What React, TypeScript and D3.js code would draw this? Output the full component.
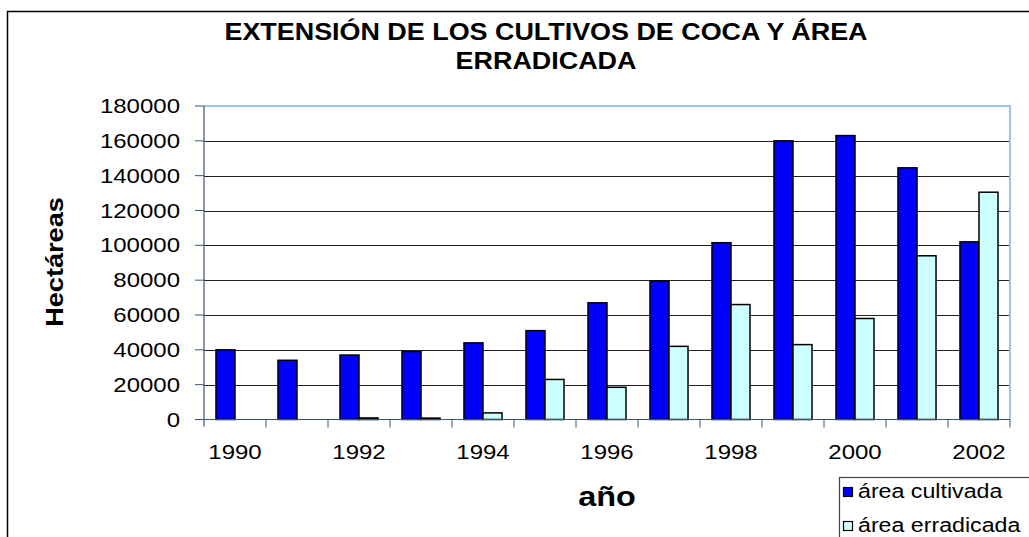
import * as d3 from "d3";
import { useEffect, useRef } from "react";

const years = [
  "1990", "1991", "1992", "1993", "1994", "1995", "1996",
  "1997", "1998", "1999", "2000", "2001", "2002",
];
const cultivada = [
  40000, 34000, 37000, 39000, 44000, 51000, 67000,
  79500, 101500, 160000, 163000, 144500, 102000,
];
const erradicada = [
  0, 0, 900, 800, 3800, 23000, 18500,
  42000, 66000, 43000, 58000, 94000, 130500,
];
const seriesNames = ["área cultivada", "área erradicada"];
const seriesColors = ["#0000ff", "#ccffff"];
const yTicks = [0, 20000, 40000, 60000, 80000, 100000, 120000, 140000, 160000, 180000];
const xLabelYears = ["1990", "1992", "1994", "1996", "1998", "2000", "2002"];

const W = 1029;
const H = 537;
const FONT = "Arial, 'Liberation Sans', sans-serif";
const SX = 1.2; // text in the original is stretched horizontally

export default function App() {
  const ref = useRef<SVGSVGElement | null>(null);

  useEffect(() => {
    if (!ref.current) return;
    const svg = d3.select(ref.current);
    svg.selectAll("*").remove();

    const left = 204, right = 1010, top = 106, bottom = 419.5;

    const x = d3.scaleBand<string>().domain(years).range([left, right]).padding(0);
    const inner = d3
      .scaleBand<number>()
      .domain([0, 1])
      .range([0, x.bandwidth()])
      .paddingInner(0)
      .paddingOuter(0.63);
    const y = d3.scaleLinear().domain([0, 180000]).range([bottom, top]);

    // outer frame
    svg.append("path")
      .attr("d", `M7.5,${H + 5} V11.5 H${W + 5}`)
      .attr("fill", "none")
      .attr("stroke", "#000")
      .attr("stroke-width", 1.5);

    const stretched = (
      g: d3.Selection<SVGSVGElement, unknown, null, undefined>,
      tx: number, ty: number, txt: string, size: number,
      anchor: string, bold = false, sx = SX
    ) =>
      g.append("text")
        .attr("transform", `translate(${tx},${ty}) scale(${sx},1)`)
        .attr("text-anchor", anchor)
        .attr("font-family", FONT)
        .attr("font-size", size)
        .attr("font-weight", bold ? "bold" : "normal")
        .attr("fill", "#000")
        .text(txt);

    // title
    stretched(svg, 546, 40, "EXTENSIÓN DE LOS CULTIVOS DE COCA Y ÁREA", 23, "middle", true, 1.17);
    stretched(svg, 546, 69, "ERRADICADA", 23, "middle", true, 1.17);

    // gridlines
    svg.append("g")
      .selectAll("line")
      .data(yTicks.filter((t) => t > 0 && t < 180000))
      .join("line")
      .attr("x1", left)
      .attr("x2", right)
      .attr("y1", (d) => Math.round(y(d)) + 0.5)
      .attr("y2", (d) => Math.round(y(d)) + 0.5)
      .attr("stroke", "#222")
      .attr("stroke-width", 1);

    // plot border (top / right)
    svg.append("path")
      .attr("d", `M${left},${top} H${right} V${bottom}`)
      .attr("fill", "none")
      .attr("stroke", "#99c4ee")
      .attr("stroke-width", 2);

    // bars
    const rows = years.map((yr, i) => ({ yr, vals: [cultivada[i], erradicada[i]] }));
    const grp = svg.append("g")
      .selectAll("g")
      .data(rows)
      .join("g")
      .attr("transform", (d) => `translate(${x(d.yr)},0)`);
    grp.selectAll("rect")
      .data((d) => d.vals.map((v, k) => ({ v, k })).filter((e) => e.v > 0))
      .join("rect")
      .attr("x", (e) => inner(e.k) as number)
      .attr("width", inner.bandwidth())
      .attr("y", (e) => y(e.v))
      .attr("height", (e) => bottom - y(e.v))
      .attr("fill", (e) => seriesColors[e.k])
      .attr("stroke", "#000")
      .attr("stroke-width", 1.5);

    // y axis
    const yAxis = svg.append("g");
    yAxis.append("line")
      .attr("x1", left).attr("x2", left)
      .attr("y1", top).attr("y2", bottom + 7)
      .attr("stroke", "#3d5670").attr("stroke-width", 1.2);
    yAxis.selectAll("line.t")
      .data(yTicks)
      .join("line")
      .attr("class", "t")
      .attr("x1", left - 9).attr("x2", left)
      .attr("y1", (d) => y(d)).attr("y2", (d) => y(d))
      .attr("stroke", "#3d5670").attr("stroke-width", 1);
    yTicks.forEach((t) => {
      stretched(svg, 180, y(t) + 7, String(t), 20, "end");
    });

    // x axis
    svg.append("line")
      .attr("x1", left).attr("x2", right)
      .attr("y1", bottom).attr("y2", bottom)
      .attr("stroke", "#3d5670").attr("stroke-width", 1.2);
    svg.append("g")
      .selectAll("line")
      .data(years.slice(1).concat(["end"]))
      .join("line")
      .attr("x1", (d, i) => left + (i + 1) * x.step())
      .attr("x2", (d, i) => left + (i + 1) * x.step())
      .attr("y1", bottom)
      .attr("y2", bottom + 8)
      .attr("stroke", "#3d5670").attr("stroke-width", 1);
    xLabelYears.forEach((yr) => {
      stretched(svg, (x(yr) as number) + x.bandwidth() / 2, 459, yr, 20, "middle");
    });

    // axis titles
    svg.append("text")
      .attr("transform", `translate(63,262) rotate(-90) scale(1.13,1)`)
      .attr("text-anchor", "middle")
      .attr("font-family", FONT)
      .attr("font-size", 24)
      .attr("font-weight", "bold")
      .text("Hectáreas");
    stretched(svg, 607, 506, "año", 27, "middle", true);

    // legend
    svg.append("rect")
      .attr("x", 839.5).attr("y", 477.5)
      .attr("width", 220).attr("height", 80)
      .attr("fill", "#fff")
      .attr("stroke", "#444").attr("stroke-width", 1.2);
    seriesNames.forEach((name, k) => {
      const ly = 487 + k * 34;
      svg.append("rect")
        .attr("x", 843.5).attr("y", ly + 0.5)
        .attr("width", 9).attr("height", 9)
        .attr("fill", seriesColors[k])
        .attr("stroke", "#000").attr("stroke-width", 1.2);
      stretched(svg, 858, ly + 11, name, 20, "start", false, 1.16);
    });
  }, []);

  return (
    <svg
      ref={ref}
      width={W}
      height={H}
      style={{ position: "absolute", left: 0, top: 0, background: "#fff" }}
    />
  );
}
